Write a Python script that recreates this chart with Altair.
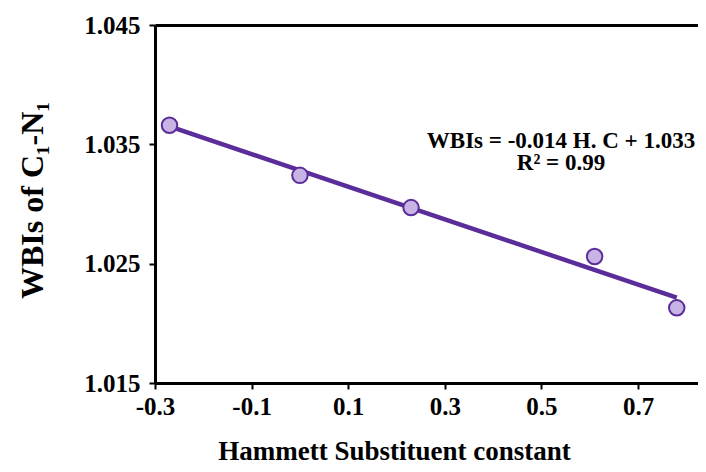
import altair as alt
import pandas as pd

hammett = [-0.27, 0.0, 0.23, 0.61, 0.78]
wbi = [1.0366, 1.0324, 1.0297, 1.0256, 1.0213]
x_ticks = [-0.3, -0.1, 0.1, 0.3, 0.5, 0.7]
y_ticks = [1.015, 1.025, 1.035, 1.045]
eq_text = "WBIs = -0.014 H. C  + 1.033\nR\u00b2 = 0.99"

df = pd.DataFrame({"hc": hammett, "wbi": wbi})

FONT = "Liberation Serif"
LINE = "#5b2d9a"
FILL = "#c8b4e4"

xscale = alt.Scale(domain=[-0.3, 0.824], nice=False, zero=False)
yscale = alt.Scale(domain=[1.015, 1.045], nice=False, zero=False)

xaxis = alt.Axis(values=x_ticks, format=".1f",
                 labelExpr="replace(datum.label, '\u2212', '-')",
                 labelFlush=False, labelFont=FONT, labelFontSize=25,
                 labelFontWeight="bold", labelColor="black", labelPadding=5,
                 domainColor="black", domainWidth=3, tickColor="black", tickWidth=2,
                 tickSize=6, grid=False, title="Hammett Substituent constant",
                 titleFont=FONT, titleFontSize=27, titleFontWeight="bold",
                 titleColor="black", titleX=239, titleY=76, titleAlign="center",
                 titleBaseline="alphabetic")
yaxis = alt.Axis(values=y_ticks, format=".3f", labelFlush=False,
                 labelFont=FONT, labelFontSize=25,
                 labelFontWeight="bold", labelColor="black", labelPadding=9,
                 domainColor="black", domainWidth=3, tickColor="black", tickWidth=2,
                 tickSize=6, grid=False, title="WBIs of C\u2081-N\u2081",
                 titleFont=FONT, titleFontSize=32, titleFontWeight="bold",
                 titleColor="black", titleX=-123, titleY=175, titleAngle=-90,
                 titleAlign="center", titleBaseline="middle")

base = alt.Chart(df)

trend = base.transform_regression("hc", "wbi").mark_line(
    color=LINE, strokeWidth=4.5).encode(
    x=alt.X("hc:Q", scale=xscale, axis=None),
    y=alt.Y("wbi:Q", scale=yscale, axis=yaxis),
)

points = base.mark_point(filled=True, size=240, fill=FILL, stroke=LINE,
                         strokeWidth=2, opacity=1).encode(
    x=alt.X("hc:Q", scale=xscale, axis=xaxis),
    y=alt.Y("wbi:Q", scale=yscale, axis=yaxis),
)

top_border = base.mark_point(opacity=0).encode(
    x=alt.X("hc:Q", scale=xscale,
            axis=alt.Axis(orient="top", labels=False, ticks=False, title=None,
                          domainColor="black", domainWidth=3, grid=False)),
)

eq = alt.Chart(pd.DataFrame({"t": [eq_text]})).mark_text(
    font=FONT, fontSize=23, fontWeight="bold", color="black", align="center",
    baseline="top", lineBreak="\n", lineHeight=22).encode(
    text="t:N",
    x=alt.value(406),
    y=alt.value(105),
)

chart = alt.layer(trend, points, top_border, eq).resolve_axis(
    x="independent"
).properties(
    width=543, height=358,
    autosize=alt.AutoSizeParams(type="none"),
    padding={"left": 147, "top": 17, "right": 0, "bottom": 80},
).configure_view(stroke=None).configure(background="white")

chart.save("out.html", embed_options={"renderer": "svg", "actions": False})
